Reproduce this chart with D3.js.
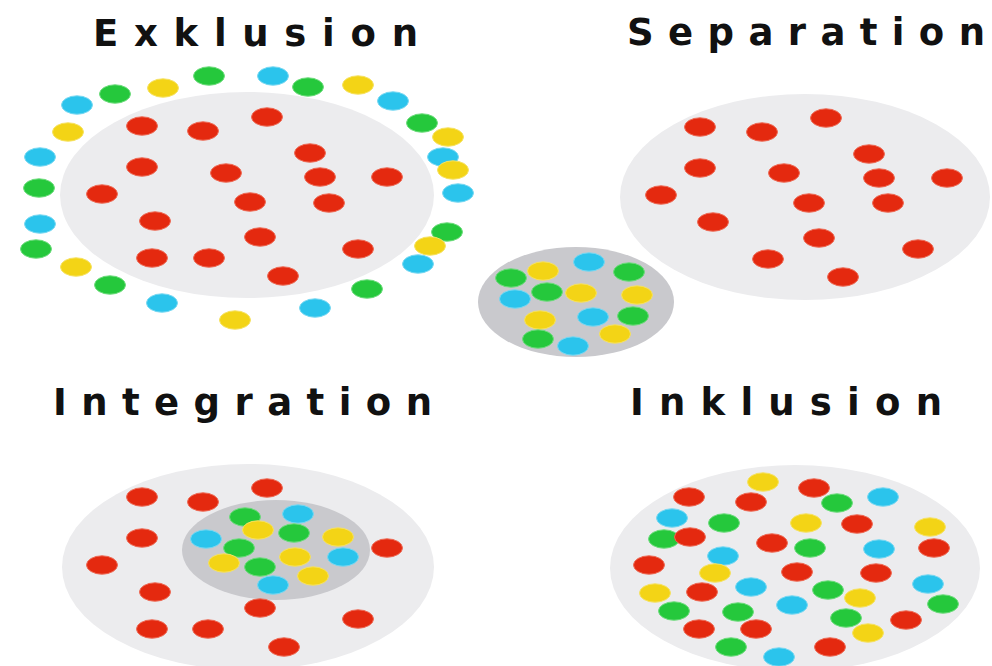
<!DOCTYPE html>
<html>
<head>
<meta charset="utf-8">
<script src="https://cdn.jsdelivr.net/npm/d3@7"></script>
<style>
  html, body { margin: 0; padding: 0; background: #fff; }
  svg { display: block; }
</style>
</head>
<body>
<svg id="chart" width="992" height="666"></svg>
<script>
// titles: [text, x, baseline, width]
const titles = [
  ['Exklusion', 93, 46, 325],
  ['Separation', 627, 45, 358],
  ['Integration', 53, 415, 379],
  ['Inklusion', 630, 415, 312]
];

// group circles: [cx, cy, rx, ry, tone]
const groups = [
  [247, 195, 187, 103, 'light'],
  [805, 197, 185, 103, 'light'],
  [576, 302, 98, 55, 'dark'],
  [248, 567, 186, 103, 'light'],
  [276, 550, 94, 50, 'dark'],
  [795, 568, 185, 103, 'light']
];

// dots: [x, y, colour key]
const exklusionDots = [
  [142, 126, 'r'], [203, 131, 'r'], [267, 117, 'r'], [310, 153, 'r'],
  [142, 167, 'r'], [226, 173, 'r'], [320, 177, 'r'], [387, 177, 'r'],
  [102, 194, 'r'], [250, 202, 'r'], [329, 203, 'r'], [155, 221, 'r'],
  [260, 237, 'r'], [358, 249, 'r'], [152, 258, 'r'], [209, 258, 'r'],
  [283, 276, 'r'],
  [209, 76, 'g'], [273, 76, 'c'], [308, 87, 'g'], [358, 85, 'y'],
  [393, 101, 'c'], [422, 123, 'g'], [448, 137, 'y'], [443, 157, 'c'],
  [453, 170, 'y'], [458, 193, 'c'], [447, 232, 'g'], [430, 246, 'y'],
  [418, 264, 'c'], [367, 289, 'g'], [315, 308, 'c'], [235, 320, 'y'],
  [162, 303, 'c'], [110, 285, 'g'], [76, 267, 'y'], [36, 249, 'g'],
  [40, 224, 'c'], [39, 188, 'g'], [40, 157, 'c'], [68, 132, 'y'],
  [77, 105, 'c'], [115, 94, 'g'], [163, 88, 'y']
];

const separationDots = [
  [700, 127, 'r'], [762, 132, 'r'], [826, 118, 'r'], [869, 154, 'r'],
  [700, 168, 'r'], [784, 173, 'r'], [879, 178, 'r'], [947, 178, 'r'],
  [661, 195, 'r'], [809, 203, 'r'], [888, 203, 'r'], [713, 222, 'r'],
  [819, 238, 'r'], [918, 249, 'r'], [768, 259, 'r'], [843, 277, 'r'],
  [589, 262, 'c'], [543, 271, 'y'], [629, 272, 'g'], [511, 278, 'g'],
  [547, 292, 'g'], [581, 293, 'y'], [637, 295, 'y'], [515, 299, 'c'],
  [540, 320, 'y'], [593, 317, 'c'], [633, 316, 'g'], [615, 334, 'y'],
  [538, 339, 'g'], [573, 346, 'c']
];

const integrationDots = [
  [142, 497, 'r'], [203, 502, 'r'], [267, 488, 'r'], [142, 538, 'r'],
  [102, 565, 'r'], [387, 548, 'r'], [155, 592, 'r'], [260, 608, 'r'],
  [358, 619, 'r'], [152, 629, 'r'], [208, 629, 'r'], [284, 647, 'r'],
  [245, 517, 'g'], [298, 514, 'c'], [258, 530, 'y'], [294, 533, 'g'],
  [338, 537, 'y'], [206, 539, 'c'], [239, 548, 'g'], [295, 557, 'y'],
  [343, 557, 'c'], [224, 563, 'y'], [260, 567, 'g'], [313, 576, 'y'],
  [273, 585, 'c']
];

const inklusionDots = [
  [763, 482, 'y'], [814, 488, 'r'], [689, 497, 'r'], [751, 502, 'r'],
  [837, 503, 'g'], [883, 497, 'c'], [672, 518, 'c'], [724, 523, 'g'],
  [806, 523, 'y'], [857, 524, 'r'], [930, 527, 'y'], [664, 539, 'g'],
  [690, 537, 'r'], [772, 543, 'r'], [810, 548, 'g'], [879, 549, 'c'],
  [934, 548, 'r'], [723, 556, 'c'], [649, 565, 'r'], [715, 573, 'y'],
  [797, 572, 'r'], [876, 573, 'r'], [928, 584, 'c'], [655, 593, 'y'],
  [702, 592, 'r'], [751, 587, 'c'], [828, 590, 'g'], [860, 598, 'y'],
  [792, 605, 'c'], [943, 604, 'g'], [674, 611, 'g'], [738, 612, 'g'],
  [846, 618, 'g'], [906, 620, 'r'], [699, 629, 'r'], [756, 629, 'r'],
  [868, 633, 'y'], [731, 647, 'g'], [830, 647, 'r'], [779, 657, 'c']
];

const width = 992;
const height = 666;

const svg = d3.select('#chart');

const x = d3.scaleLinear().domain([0, 992]).range([0, width]);
const y = d3.scaleLinear().domain([0, 666]).range([0, height]);

const color = d3.scaleOrdinal()
  .domain(['r', 'g', 'c', 'y'])
  .range(['#e4290f', '#25c83c', '#2bc4ec', '#f3d416']);

const halo = d3.scaleOrdinal()
  .domain(['r', 'g', 'c', 'y'])
  .range(['#ee6a55', '#6ddc7c', '#78d8f2', '#f6e262']);

const tone = d3.scaleOrdinal()
  .domain(['light', 'dark'])
  .range(['#ececee', '#c9c9cd']);

// background group circles, dark ones come later so they sit on top
svg.selectAll('.group')
  .data(groups)
  .enter().append('ellipse')
  .attr('class', 'group')
  .attr('cx', d => x(d[0]))
  .attr('cy', d => y(d[1]))
  .attr('rx', d => d[2])
  .attr('ry', d => d[3])
  .attr('fill', d => tone(d[4]));

const allDots = [].concat(exklusionDots, separationDots, integrationDots, inklusionDots);

svg.selectAll('.dot')
  .data(allDots)
  .enter().append('ellipse')
  .attr('class', 'dot')
  .attr('cx', d => x(d[0]))
  .attr('cy', d => y(d[1]))
  .attr('rx', 15.5)
  .attr('ry', 9.2)
  .attr('fill', d => color(d[2]))
  .attr('stroke', d => halo(d[2]))
  .attr('stroke-width', 1);

svg.selectAll('.title')
  .data(titles)
  .enter().append('text')
  .attr('class', 'title')
  .attr('x', d => d[1])
  .attr('y', d => d[2])
  .attr('textLength', d => d[3])
  .attr('lengthAdjust', 'spacing')
  .style('font-family', '"DejaVu Sans", sans-serif')
  .style('font-weight', 'bold')
  .style('font-size', '37px')
  .attr('fill', '#111')
  .text(d => d[0]);
</script>
</body>
</html>
